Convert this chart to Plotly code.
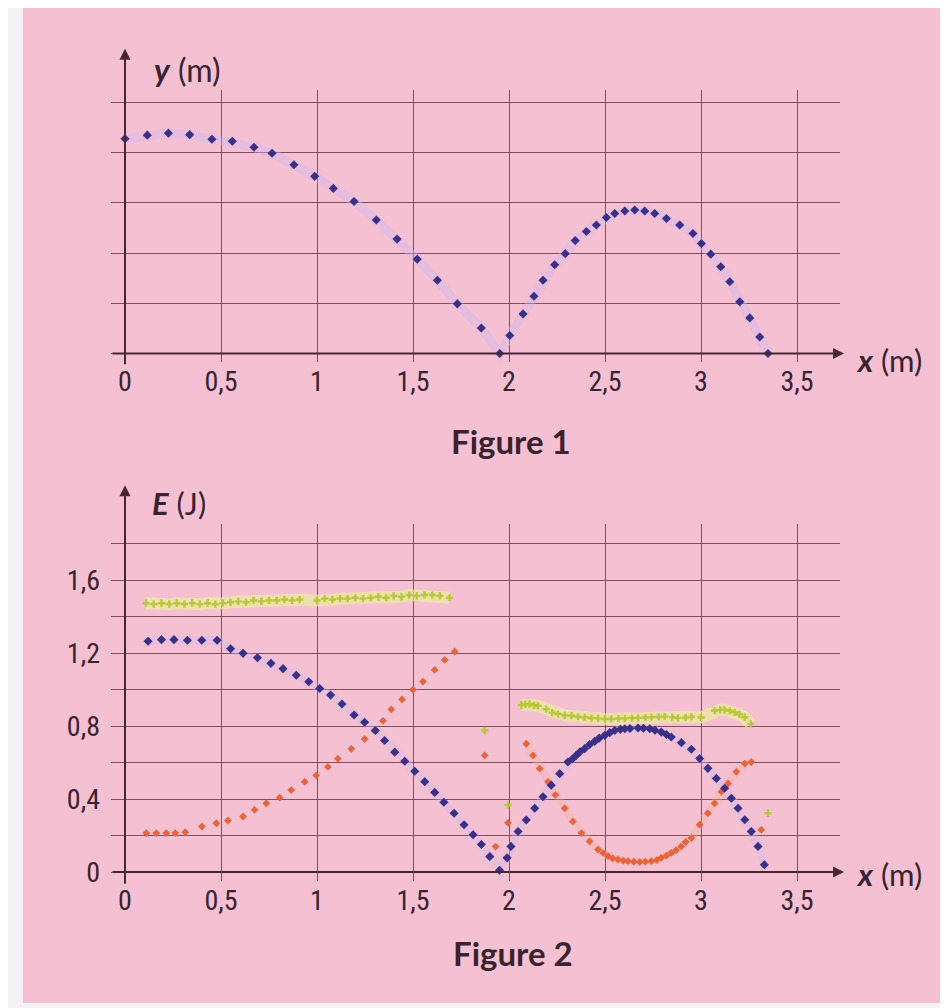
import plotly.graph_objects as go

# ---------------- Figure 1 data : trajectory y(x) ----------------
fig1_x = [0.0, 0.116, 0.226, 0.337, 0.453, 0.559, 0.672, 0.766, 0.88, 0.988, 1.085, 1.193, 1.309, 1.417,
          1.522, 1.627, 1.731, 1.856, 1.952, 2.004, 2.073, 2.13, 2.177, 2.238, 2.293, 2.345, 2.403, 2.455,
          2.507, 2.551, 2.603, 2.655, 2.707, 2.759, 2.82, 2.889, 2.958, 3.002, 3.051, 3.103, 3.15, 3.202,
          3.254, 3.306, 3.349]
fig1_y = [0.856, 0.87, 0.878, 0.872, 0.854, 0.846, 0.822, 0.798, 0.752, 0.706, 0.658, 0.606, 0.532, 0.456,
          0.376, 0.292, 0.198, 0.102, 0.0, 0.072, 0.158, 0.228, 0.292, 0.354, 0.398, 0.45, 0.486, 0.512,
          0.542, 0.558, 0.568, 0.572, 0.568, 0.558, 0.538, 0.512, 0.478, 0.438, 0.396, 0.346, 0.286, 0.206,
          0.142, 0.066, 0.0]

# ---------------- Figure 2 data : energies E(x) ----------------
# potential energy (blue)
ep_x = [0.12, 0.19, 0.255, 0.325, 0.40, 0.48, 0.55, 0.615, 0.69, 0.76, 0.823, 0.892, 0.957, 1.014, 1.071,
        1.13, 1.193, 1.248, 1.304, 1.352, 1.405, 1.457, 1.509, 1.561, 1.613, 1.661, 1.714, 1.766, 1.813,
        1.856, 1.90, 1.951,
        1.99, 2.01, 2.047, 2.09, 2.134, 2.177, 2.22, 2.264, 2.307, 2.33, 2.35, 2.37, 2.394, 2.42, 2.446,
        2.47, 2.499, 2.525, 2.551, 2.58, 2.603, 2.63, 2.672, 2.70, 2.733, 2.76, 2.793, 2.82, 2.845, 2.898,
        2.95, 2.993, 3.036, 3.08, 3.123, 3.158, 3.193, 3.228, 3.262, 3.297, 3.33]
ep_e = [1.266, 1.275, 1.275, 1.272, 1.272, 1.272, 1.225, 1.2, 1.176, 1.145, 1.116, 1.08, 1.044, 1.007, 0.971,
        0.922, 0.862, 0.822, 0.777, 0.722, 0.658, 0.608, 0.553, 0.496, 0.437, 0.383, 0.323, 0.26, 0.205,
        0.151, 0.085, 0.01,
        0.078, 0.141, 0.223, 0.286, 0.35, 0.413, 0.477, 0.54, 0.604, 0.62, 0.64, 0.66, 0.677, 0.70, 0.717,
        0.735, 0.75, 0.765, 0.777, 0.783, 0.786, 0.788, 0.79, 0.789, 0.786, 0.778, 0.768, 0.755, 0.741, 0.71,
        0.674, 0.623, 0.569, 0.514, 0.46, 0.405, 0.35, 0.287, 0.223, 0.141, 0.04]

# kinetic energy (orange)
ec_x = [0.111, 0.163, 0.215, 0.262, 0.314, 0.401, 0.476, 0.536, 0.615, 0.675, 0.736, 0.806, 0.866, 0.936,
        0.996, 1.057, 1.109, 1.179, 1.248, 1.3, 1.344, 1.387, 1.443, 1.5, 1.552, 1.613, 1.665, 1.717,
        1.873, 1.93, 1.995,
        2.09, 2.125, 2.16, 2.203, 2.241, 2.29, 2.333, 2.377, 2.42, 2.464, 2.49, 2.516, 2.54, 2.568, 2.595,
        2.62, 2.65, 2.681, 2.71, 2.741, 2.77, 2.793, 2.82, 2.845, 2.87, 2.897, 2.92, 2.95, 2.993, 3.036,
        3.071, 3.106, 3.141, 3.184, 3.228, 3.262, 3.314]
ec_e = [0.214, 0.214, 0.214, 0.214, 0.219, 0.25, 0.268, 0.283, 0.305, 0.341, 0.377, 0.408, 0.45, 0.495,
        0.531, 0.577, 0.622, 0.676, 0.73, 0.776, 0.83, 0.893, 0.947, 1.001, 1.045, 1.109, 1.164, 1.21,
        0.64, 0.14, 0.27,
        0.704, 0.64, 0.568, 0.495, 0.423, 0.35, 0.278, 0.214, 0.169, 0.124, 0.105, 0.087, 0.075, 0.069, 0.063,
        0.06, 0.057, 0.056, 0.057, 0.06, 0.066, 0.078, 0.09, 0.105, 0.12, 0.141, 0.165, 0.187, 0.26, 0.323,
        0.377, 0.441, 0.486, 0.55, 0.595, 0.604, 0.232]

# mechanical energy (yellow)
em_x = [0.11, 0.15, 0.19, 0.23, 0.27, 0.31, 0.35, 0.39, 0.43, 0.47, 0.51, 0.55, 0.59, 0.63, 0.67, 0.71,
        0.75, 0.79, 0.83, 0.87, 0.91, 1.0, 1.04, 1.08, 1.12, 1.16, 1.20, 1.24, 1.28, 1.32, 1.36, 1.40, 1.44,
        1.48, 1.52, 1.56, 1.60, 1.64, 1.69,
        1.873, 1.995,
        2.064, 2.085, 2.107, 2.13, 2.151, 2.194, 2.225, 2.255, 2.29, 2.325, 2.36, 2.394, 2.43, 2.464, 2.5,
        2.533, 2.57, 2.603, 2.64, 2.672, 2.71, 2.742, 2.78, 2.811, 2.85, 2.88, 2.92, 2.95, 3.0, 3.071, 3.1,
        3.123, 3.15, 3.175, 3.2, 3.228, 3.259,
        3.349]
em_e = [1.475, 1.47, 1.475, 1.47, 1.475, 1.47, 1.475, 1.47, 1.475, 1.47, 1.475, 1.48, 1.485, 1.48, 1.49,
        1.485, 1.49, 1.49, 1.495, 1.49, 1.495, 1.49, 1.5, 1.495, 1.5, 1.5, 1.505, 1.5, 1.505, 1.51, 1.505,
        1.515, 1.51, 1.52, 1.515, 1.52, 1.52, 1.515, 1.505,
        0.777, 0.368,
        0.916, 0.92, 0.921, 0.915, 0.912, 0.894, 0.875, 0.867, 0.86, 0.858, 0.852, 0.849, 0.845, 0.843, 0.84,
        0.84, 0.842, 0.843, 0.845, 0.846, 0.848, 0.85, 0.851, 0.853, 0.85, 0.846, 0.848, 0.852, 0.848, 0.885,
        0.89, 0.89, 0.885, 0.876, 0.865, 0.849, 0.813,
        0.323]

x_ticks = [0, 0.5, 1, 1.5, 2, 2.5, 3, 3.5]
e_tickvals = [0, 0.2, 0.4, 0.6, 0.8, 1.0, 1.2, 1.4, 1.6, 1.8]
e_ticktext = ["0", "", "0,4", "", "0,8", "", "1,2", "", "1,6", ""]
y_gridvals = [0, 0.2, 0.4, 0.6, 0.8, 1.0]

# ---------------- layout helpers (page pixels -> paper) ----------------
W, H = 948, 1008
def px(x):
    return x / W
def py(y):
    return 1 - y / H

X0, XPX = 117, 192.0          # pixel of x=0 and px per metre
XL, XR = 103, 832
x_range = [(XL - X0) / XPX, (XR - X0) / XPX]

# fig1 vertical mapping
Y1_0, Y1_PX = 348.3, 253.0     # px per metre (0.2 m per grid division)
Y1_T, Y1_B = 83, 357
y1_range = [(Y1_0 - Y1_B) / Y1_PX, (Y1_0 - Y1_T) / Y1_PX]

# fig2 vertical mapping
Y2_0, Y2_PX = 871, 183.75
Y2_T, Y2_B = 520, 880
y2_range = [(Y2_0 - Y2_B) / Y2_PX, (Y2_0 - Y2_T) / Y2_PX]

PINK = "#f5c1d2"
GRID = "rgba(100,50,70,0.8)"
AXC = "#4a2634"
TXT = "#3a2230"
TICKFONT = "Liberation Sans Narrow, Roboto Condensed, Roboto, sans-serif"
LBLFONT = "Lato, Open Sans, sans-serif"

BLUE = "#3b2f86"
ORANGE = "#e8643e"
YELLOW = "#b8c83a"

fig = go.Figure()

def halo(x, y, color, width, xa, ya):
    return go.Scatter(x=x, y=y, mode="lines", line=dict(color=color, width=width, shape="linear"),
                      xaxis=xa, yaxis=ya, hoverinfo="skip", showlegend=False)

def dots(x, y, color, size, xa, ya, symbol="diamond"):
    return go.Scatter(x=x, y=y, mode="markers", marker=dict(color=color, size=size, symbol=symbol,
                      line=dict(width=0)), xaxis=xa, yaxis=ya, showlegend=False)

# Figure 1
fig.add_trace(halo(fig1_x, fig1_y, "rgba(205,185,245,0.38)", 9, "x", "y"))
fig.add_trace(dots(fig1_x, fig1_y, BLUE, 7, "x", "y"))

# Figure 2 halos
fig.add_trace(halo(em_x[:39], em_e[:39], "rgba(235,242,150,0.6)", 12, "x2", "y2"))
fig.add_trace(halo(em_x[41:78], em_e[41:78], "rgba(235,242,150,0.6)", 12, "x2", "y2"))
fig.add_trace(halo(ep_x, ep_e, "rgba(205,185,245,0.32)", 8, "x2", "y2"))
fig.add_trace(halo(ec_x[31:67], ec_e[31:67], "rgba(250,175,150,0.3)", 8, "x2", "y2"))

fig.add_trace(dots(em_x, em_e, YELLOW, 6, "x2", "y2", "cross"))
fig.add_trace(dots(ec_x, ec_e, ORANGE, 6, "x2", "y2"))
fig.add_trace(dots(ep_x, ep_e, BLUE, 7, "x2", "y2"))

axis_common = dict(showgrid=True, gridcolor=GRID, gridwidth=1.3, zeroline=False, showline=False,
                   ticks="", tickfont=dict(family=TICKFONT, size=28, color=TXT), fixedrange=True)

fig.update_layout(
    width=W, height=H,
    margin=dict(l=0, r=0, t=0, b=0),
    paper_bgcolor="#f4f2f4",
    plot_bgcolor="rgba(0,0,0,0)",
    separators=", ",
    showlegend=False,
    xaxis=dict(domain=[px(XL), px(XR)], range=x_range, tickvals=x_ticks, anchor="y",
               ticklabelstandoff=0, **axis_common),
    yaxis=dict(domain=[py(Y1_B), py(Y1_T)], range=y1_range, tickvals=y_gridvals, showticklabels=False,
               anchor="x", **axis_common),
    xaxis2=dict(domain=[px(XL), px(XR)], range=x_range, tickvals=x_ticks, anchor="y2",
                ticklabelstandoff=0, **axis_common),
    yaxis2=dict(domain=[py(Y2_B), py(Y2_T)], range=y2_range, tickvals=e_tickvals, ticktext=e_ticktext,
                anchor="x2", ticklabelstandoff=10, **axis_common),
)

# pink page background
fig.add_shape(type="rect", xref="paper", yref="paper", x0=px(15), x1=1, y0=py(1003), y1=1,
              fillcolor=PINK, line=dict(width=0), layer="below")

# axis arrows
def arrow(x_tip, y_tip, x_tail, y_tail):
    fig.add_annotation(x=px(x_tip), y=py(y_tip), xref="paper", yref="paper",
                       ax=x_tail - x_tip, ay=y_tail - y_tip, showarrow=True, arrowhead=2,
                       arrowsize=1.1, arrowwidth=2, arrowcolor=AXC, text="")

arrow(117, 41, 117, 358)
arrow(836, 348.3, 103, 348.3)
arrow(117, 481, 117, 881)
arrow(836, 871, 103, 871)

def label(text, x, y, size, bold=False):
    fig.add_annotation(x=px(x), y=py(y), xref="paper", yref="paper", showarrow=False,
                       text=("<b>%s</b>" % text) if bold else text,
                       font=dict(family=LBLFONT, size=size, color=TXT), xanchor="center", yanchor="middle")

label("<b><i>y</i></b> (m)", 179, 62, 32)
label("<b><i>x</i></b> (m)", 881, 355, 31)
label("Figure 1", 503, 436, 33, bold=True)
label("<b><i>E</i></b> (J)", 171, 499, 31)
label("<b><i>x</i></b> (m)", 881, 873, 31)
label("Figure 2", 505, 953, 33, bold=True)

fig.write_html("out.html")
